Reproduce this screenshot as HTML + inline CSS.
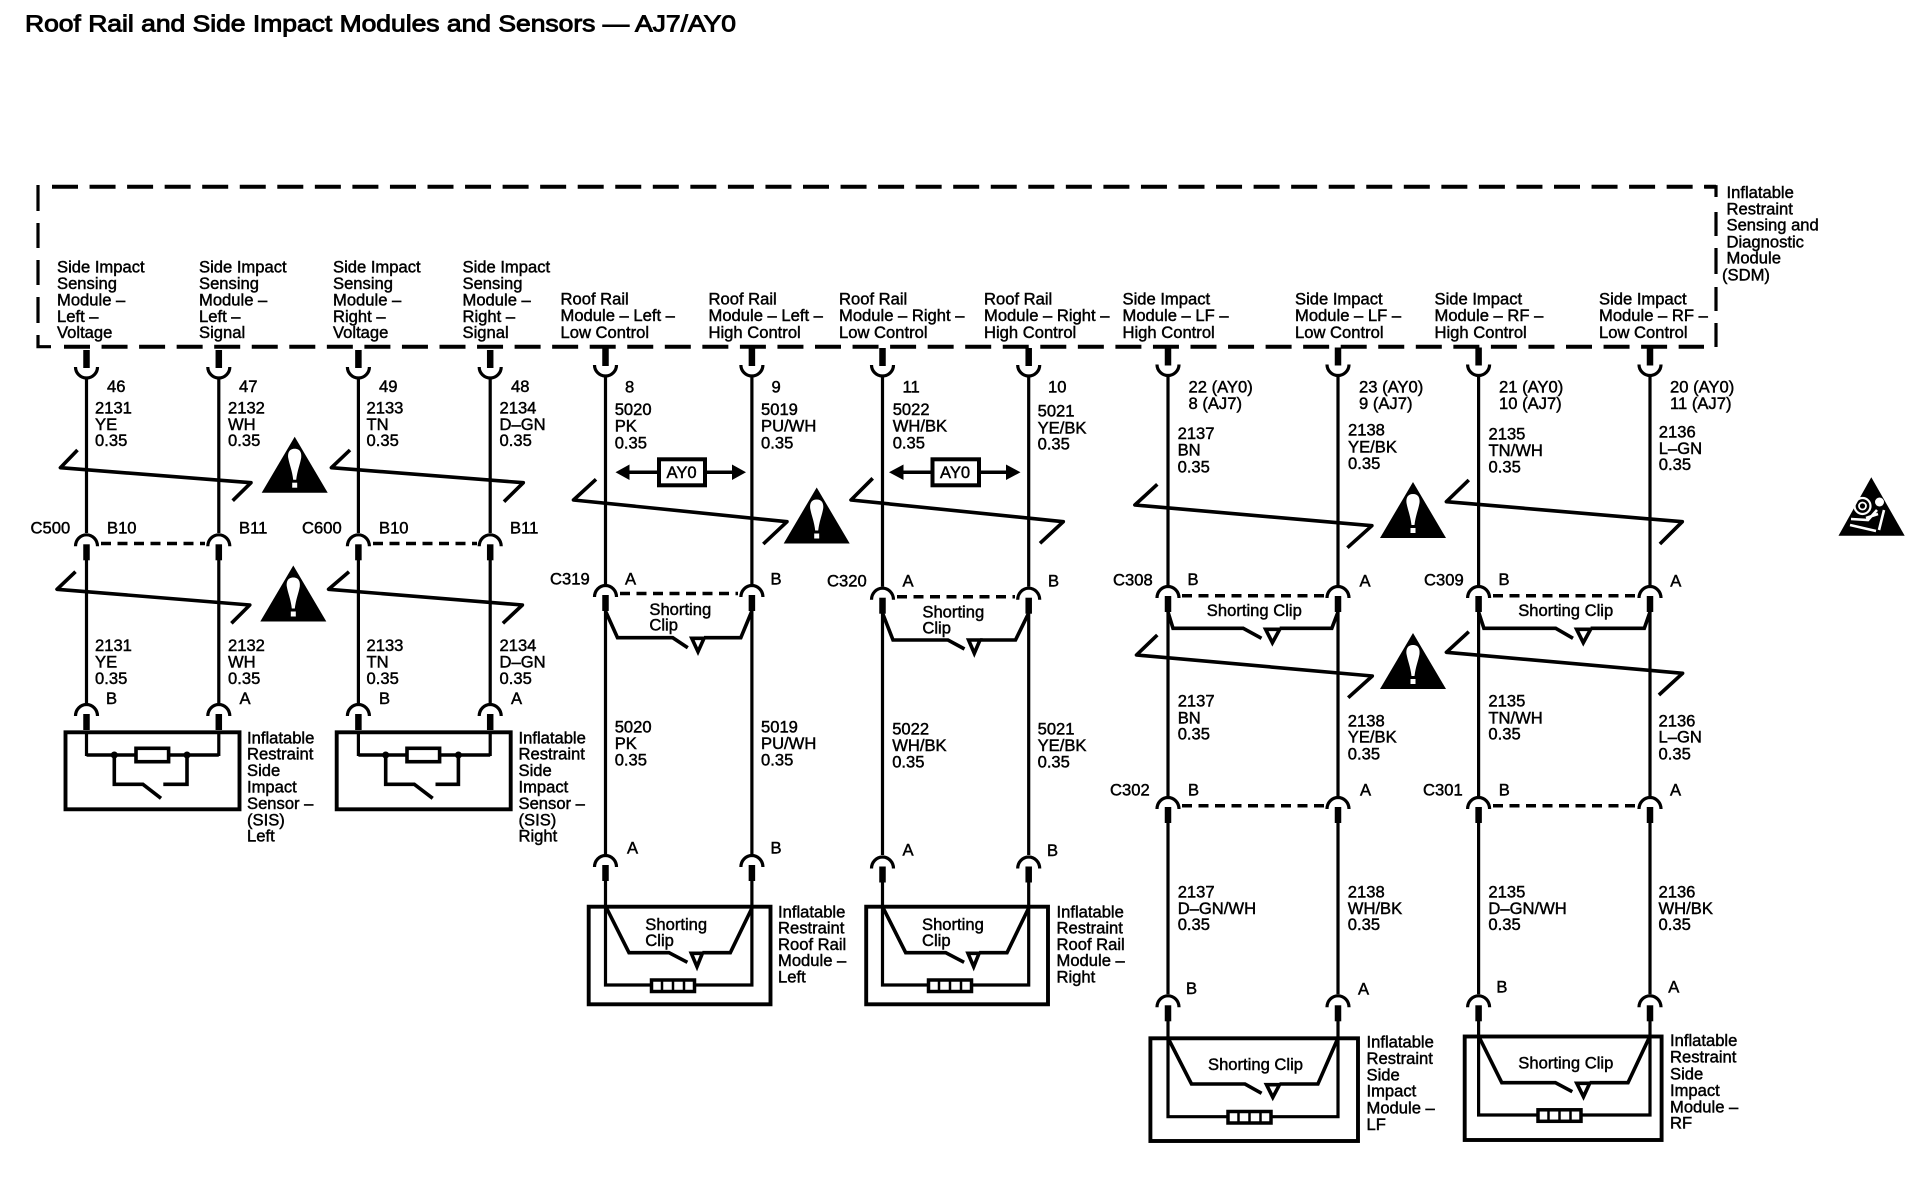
<!DOCTYPE html>
<html><head><meta charset="utf-8"><title>Roof Rail and Side Impact Modules and Sensors</title>
<style>
html,body{margin:0;padding:0;background:#fff;width:1916px;height:1184px;overflow:hidden}
svg{display:block}
text{font-family:"Liberation Sans",sans-serif;font-size:16.6px;fill:#000;stroke:#000;stroke-width:.45px}
.w{fill:none;stroke:#000;stroke-width:3.2}
.d{fill:none;stroke:#000;stroke-width:3.5;stroke-dasharray:10 6.5}
.b{fill:none;stroke:#000;stroke-width:3.9}
.c{fill:none;stroke:#000;stroke-width:3.6;stroke-linejoin:round}
</style></head><body>
<svg width="1916" height="1184" viewBox="0 0 1916 1184" xmlns="http://www.w3.org/2000/svg">
<defs>
<g id="u"><path d="M0 0V18" stroke="#000" stroke-width="6.500" fill="none"/><path d="M-11 17A11 11 0 0 0 11 17" stroke="#000" stroke-width="3.200" fill="none"/></g>
<g id="a"><path d="M-11 13A11 11.500 0 0 1 11 13" stroke="#000" stroke-width="3.200" fill="#fff"/><path d="M0 11V27" stroke="#000" stroke-width="6.500" fill="none"/></g>
<g id="tri"><path d="M0 0L33 56H-33Z" fill="#000"/><path d="M0 12C-6 12-7 17-6.500 21C-5.500 27-2.500 34-1.500 43H1.500C2.500 34 5.500 27 6.500 21C7 17 6 12 0 12Z" fill="#fff"/><rect x="-2.500" y="46" width="5" height="5" fill="#fff"/></g>
<g id="conn"><rect x="1.500" y="1.500" width="43" height="11.500" fill="#fff" stroke="#000" stroke-width="3.500"/><path d="M12 1.500V13M23 1.500V13M34 1.500V13" stroke="#000" stroke-width="2.500"/></g>
</defs>

<text x="25" y="31.500" textLength="711" lengthAdjust="spacingAndGlyphs" style="font-size:23px;stroke-width:.9px">Roof Rail and Side Impact Modules and Sensors — AJ7/AY0</text>

<!-- SDM frame -->
<path d="M52 186.700H1716" fill="none" stroke="#000" stroke-width="4" stroke-dasharray="26 11.550"/>
<path d="M64 346.700H1704" fill="none" stroke="#000" stroke-width="4" stroke-dasharray="26 11.550"/>
<path d="M38 185V211M38 223V248M38 260V285M38 297V323M38 335V346.700H51" fill="none" stroke="#000" stroke-width="3.200"/>
<path d="M1704 186.700H1716V197M1716 212V236M1716 248V274M1716 287V311M1716 323V347" fill="none" stroke="#000" stroke-width="3.200"/>
<text x="1726.500" y="198">Inflatable</text><text x="1726.500" y="214.300">Restraint</text><text x="1726.500" y="230.700">Sensing and</text><text x="1726.500" y="247.300">Diagnostic</text><text x="1726.500" y="263.300">Module</text><text x="1722" y="280.700">(SDM)</text>

<!-- header labels -->
<text x="57" y="272.700">Side Impact</text><text x="57" y="289">Sensing</text><text x="57" y="305.500">Module –</text><text x="57" y="322">Left –</text><text x="57" y="338">Voltage</text>
<text x="199" y="272.700">Side Impact</text><text x="199" y="289">Sensing</text><text x="199" y="305.500">Module –</text><text x="199" y="322">Left –</text><text x="199" y="338">Signal</text>
<text x="333" y="272.700">Side Impact</text><text x="333" y="289">Sensing</text><text x="333" y="305.500">Module –</text><text x="333" y="322">Right –</text><text x="333" y="338">Voltage</text>
<text x="462.500" y="272.700">Side Impact</text><text x="462.500" y="289">Sensing</text><text x="462.500" y="305.500">Module –</text><text x="462.500" y="322">Right –</text><text x="462.500" y="338">Signal</text>
<text x="560.500" y="304.500">Roof Rail</text><text x="560.500" y="321">Module – Left –</text><text x="560.500" y="338">Low Control</text>
<text x="708.500" y="304.500">Roof Rail</text><text x="708.500" y="321">Module – Left –</text><text x="708.500" y="338">High Control</text>
<text x="839" y="304.500">Roof Rail</text><text x="839" y="321">Module – Right –</text><text x="839" y="338">Low Control</text>
<text x="984" y="304.500">Roof Rail</text><text x="984" y="321">Module – Right –</text><text x="984" y="338">High Control</text>
<text x="1122.500" y="304.500">Side Impact</text><text x="1122.500" y="321">Module – LF –</text><text x="1122.500" y="338">High Control</text>
<text x="1295" y="304.500">Side Impact</text><text x="1295" y="321">Module – LF –</text><text x="1295" y="338">Low Control</text>
<text x="1434.500" y="304.500">Side Impact</text><text x="1434.500" y="321">Module – RF –</text><text x="1434.500" y="338">High Control</text>
<text x="1599" y="304.500">Side Impact</text><text x="1599" y="321">Module – RF –</text><text x="1599" y="338">Low Control</text>

<!-- wires -->
<path class="w" d="M86.500 378V533M86.500 560V703M86.500 731V756M218.800 378V533M218.800 560V703M218.800 731V756M358.400 378V533M358.400 560V703M358.400 731V756M490.200 378V533M490.200 560V703M490.200 731V756"/>
<path class="w" d="M605.500 376V584M605.500 611V854M605.500 880V985H751.900V880M751.900 611V854M751.900 376V584"/>
<path class="w" d="M882.500 376V586.700M882.500 613V855M882.500 882V985H1028.700V882M1028.700 613V855M1028.700 376V586.700"/>
<path class="w" d="M1168 375V585M1168 612V796M1168 822V994.300M1168 1021V1116.700H1338V1021M1338 994.300V822M1338 796V612M1338 585V375"/>
<path class="w" d="M1478.600 375V585M1478.600 612V796M1478.600 822V994.300M1478.600 1021V1115H1650V1021M1650 994.300V822M1650 796V612M1650 585V375"/>

<!-- top connectors -->
<use href="#u" x="86.500" y="350"/><use href="#u" x="218.800" y="350"/><use href="#u" x="358.400" y="350"/><use href="#u" x="490.200" y="350"/>
<use href="#u" x="605.500" y="348"/><use href="#u" x="751.900" y="348"/><use href="#u" x="882.500" y="348"/><use href="#u" x="1028.700" y="348"/>
<use href="#u" x="1168" y="347.500"/><use href="#u" x="1338" y="347.500"/><use href="#u" x="1478.600" y="347.500"/><use href="#u" x="1650" y="347.500"/>

<!-- dashed connector bodies -->
<path class="d" d="M101 543.500H205"/><path class="d" d="M373 543.500H477"/>
<path class="d" d="M620 593.500H738"/><path class="d" d="M897 596.700H1015"/>
<path class="d" d="M1182 595.700H1325"/><path class="d" d="M1493 595.700H1637"/>
<path class="d" d="M1182 805.700H1325"/><path class="d" d="M1493 805.700H1637"/>

<!-- arches -->
<use href="#a" x="86.500" y="533.300"/><use href="#a" x="218.800" y="533.300"/><use href="#a" x="358.400" y="533.300"/><use href="#a" x="490.200" y="533.300"/>
<use href="#a" x="86.500" y="703"/><use href="#a" x="218.800" y="703"/><use href="#a" x="358.400" y="703"/><use href="#a" x="490.200" y="703"/>
<use href="#a" x="605.500" y="584"/><use href="#a" x="751.900" y="584"/><use href="#a" x="882.500" y="586.700"/><use href="#a" x="1028.700" y="586.700"/>
<use href="#a" x="605.500" y="854"/><use href="#a" x="751.900" y="854"/><use href="#a" x="882.500" y="855.500"/><use href="#a" x="1028.700" y="855.500"/>
<use href="#a" x="1168" y="585"/><use href="#a" x="1338" y="585"/><use href="#a" x="1478.600" y="585"/><use href="#a" x="1650" y="585"/>
<use href="#a" x="1168" y="796"/><use href="#a" x="1338" y="796"/><use href="#a" x="1478.600" y="796"/><use href="#a" x="1650" y="796"/>
<use href="#a" x="1168" y="994.300"/><use href="#a" x="1338" y="994.300"/><use href="#a" x="1478.600" y="994.300"/><use href="#a" x="1650" y="994.300"/>

<!-- break lines -->
<path class="c" d="M77.500 450L60.400 467.700L251 482.700L232.700 500.700"/>
<path class="c" d="M350 450L331.400 467.700L523.300 482.700L504 501.700"/>
<path class="c" d="M75.500 571.700L57 589.300L249.800 605L231.400 623.300"/>
<path class="c" d="M349 571.700L328.600 589.300L522.400 605L502.900 623.300"/>
<path class="c" d="M596 479.300L573.500 500L787 521.700L763.300 544"/>
<path class="c" d="M872.700 478.300L851 500L1063.300 521.700L1040 543.300"/>
<path class="c" d="M1157.300 484.300L1134.900 505L1371.900 525.700L1347.400 547.700"/>
<path class="c" d="M1468.800 480L1446.400 501.700L1682.300 521.700L1659.900 544"/>
<path class="c" d="M1157.300 635L1136.500 655L1372.300 676L1348.200 697.700"/>
<path class="c" d="M1468.800 631.700L1446.400 652.300L1682.600 673.300L1658.900 695"/>

<!-- warning triangles -->
<use href="#tri" x="294.700" y="436.700"/><use href="#tri" x="293.300" y="565.500"/><use href="#tri" x="816.700" y="487.500"/><use href="#tri" x="1413" y="482"/><use href="#tri" x="1413" y="633"/>
<path d="M1871.300 477.300L1904.700 535.700H1838.500Z" fill="#000"/>
<circle cx="1879.500" cy="502" r="4.500" fill="#fff"/>
<circle cx="1862.500" cy="506" r="8" fill="none" stroke="#fff" stroke-width="2.200"/>
<circle cx="1862.500" cy="506" r="3.500" fill="none" stroke="#fff" stroke-width="1.800"/>
<path d="M1877 510L1868 520L1851 519M1884 510L1879 530M1850 525L1876 531M1866 518L1878 514" fill="none" stroke="#fff" stroke-width="2.600"/>

<!-- SIS boxes -->
<rect x="65.500" y="732.300" width="174" height="77" class="b"/>
<rect x="336.700" y="732.300" width="174" height="77" class="b"/>
<g fill="none" stroke="#000" stroke-width="3.600">
<path d="M86.500 755H218.800M114.300 755V784.300H142.900L161 798.300M187 755V784.300H163.300"/>
<rect x="136" y="748.300" width="32.600" height="13.400" fill="#fff"/>
<path d="M358.400 755H490.200M385.700 755V784.300H414.300L432.700 798.300M458.400 755V784.300H435.500"/>
<rect x="407" y="748.300" width="32.600" height="13.400" fill="#fff"/>
</g>
<circle cx="114.300" cy="755" r="3.500"/><circle cx="187" cy="755" r="3.500"/><circle cx="385.700" cy="755" r="3.500"/><circle cx="458.400" cy="755" r="3.500"/>

<!-- module boxes -->
<rect x="588.700" y="906.700" width="181.800" height="97.600" class="b"/>
<rect x="866.200" y="906.700" width="181.800" height="97.600" class="b"/>
<rect x="1150.400" y="1038.300" width="207.600" height="102.700" class="b"/>
<rect x="1464.700" y="1036.500" width="196.900" height="103.500" class="b"/>

<!-- shorting clips -->
<g fill="none" stroke="#000" stroke-width="3.600">
<path d="M605.500 611L617.500 637.700H672.700L687.800 647.700M704 637.700H740.800L751.900 611"/>
<path d="M691.800 638.300H704L698 651.700Z"/>
<path d="M882.500 613L893 640H948L964.500 649M980 640H1015.500L1028.700 613"/>
<path d="M968.600 640H980L974.300 653.300Z"/>
<path d="M1168 612L1173 628.300H1243.200L1261.500 638.300M1279.700 628.300H1331.800L1338 612"/>
<path d="M1265.600 629.300H1279.700L1272.400 642.700Z"/>
<path d="M1478.600 612L1483.900 628.300H1555.700L1573 638.300M1590.600 628.300H1644.300L1650 612"/>
<path d="M1576.600 629.300H1590.600L1583.300 642.700Z"/>
<path d="M606 907L629 952.700H669L687.400 962.300M702.400 952.700H730.300L752 908"/>
<path d="M691.300 953.300H702.400L697 966.700Z"/>
<path d="M882.700 907L905.700 952.700H945.700L964.100 962.300M979.100 952.700H1007L1028.700 908"/>
<path d="M968 953.300H979.100L973.700 966.700Z"/>
<path d="M1168 1038L1191.500 1084H1245L1261.600 1093.300M1279.500 1084H1317.900L1338 1038"/>
<path d="M1266.500 1084.700H1279.500L1272.800 1097.300Z"/>
<path d="M1478.600 1036L1501.800 1082.700H1555.400L1572.300 1091.700M1589.700 1082.700H1628L1650 1036"/>
<path d="M1576.800 1083.300H1589.700L1583.500 1096.700Z"/>
</g>
<use href="#conn" x="650" y="978.500"/><use href="#conn" x="927" y="978.500"/><use href="#conn" x="1226.500" y="1110"/><use href="#conn" x="1536.500" y="1108.300"/>

<!-- AY0 -->
<path d="M629 472.300H658M705 472.300H732M903 472.300H932M980 472.300H1006" stroke="#000" stroke-width="3.500" fill="none"/>
<path d="M615.500 472.300L629.500 464.500V480ZM746 472.300L732 464.500V480ZM889 472.300L903.500 464.500V480ZM1020.500 472.300L1006 464.500V480Z"/>
<rect x="659" y="459.300" width="46" height="26" fill="#fff" stroke="#000" stroke-width="4"/>
<rect x="932.500" y="459.300" width="46.500" height="26" fill="#fff" stroke="#000" stroke-width="4"/>
<text x="666.500" y="478">AY0</text><text x="940" y="478">AY0</text>

<!-- pin numbers -->
<text x="107" y="392">46</text><text x="239" y="392">47</text><text x="379" y="392">49</text><text x="511" y="392">48</text>
<text x="625" y="392.300">8</text><text x="771.500" y="392.300">9</text><text x="902.500" y="392.300">11</text><text x="1048" y="392.300">10</text>
<text x="1188.500" y="392.700">22 (AY0)</text><text x="1188.500" y="409">8 (AJ7)</text>
<text x="1359" y="392.700">23 (AY0)</text><text x="1359" y="409">9 (AJ7)</text>
<text x="1499" y="392.700">21 (AY0)</text><text x="1499" y="409">10 (AJ7)</text>
<text x="1670" y="392.700">20 (AY0)</text><text x="1670" y="409">11 (AJ7)</text>

<!-- wire labels: upper -->
<text x="95" y="413.300">2131</text><text x="95" y="430">YE</text><text x="95" y="446">0.35</text>
<text x="228" y="413.300">2132</text><text x="228" y="430">WH</text><text x="228" y="446">0.35</text>
<text x="366.500" y="413.300">2133</text><text x="366.500" y="430">TN</text><text x="366.500" y="446">0.35</text>
<text x="499.500" y="413.300">2134</text><text x="499.500" y="430">D–GN</text><text x="499.500" y="446">0.35</text>
<text x="614.700" y="415">5020</text><text x="614.700" y="431.700">PK</text><text x="614.700" y="448.300">0.35</text>
<text x="761" y="415">5019</text><text x="761" y="431.700">PU/WH</text><text x="761" y="448.300">0.35</text>
<text x="892.700" y="415">5022</text><text x="892.700" y="431.700">WH/BK</text><text x="892.700" y="448.300">0.35</text>
<text x="1037.600" y="416.700">5021</text><text x="1037.600" y="433.300">YE/BK</text><text x="1037.600" y="449.300">0.35</text>
<text x="1177.600" y="439">2137</text><text x="1177.600" y="455.700">BN</text><text x="1177.600" y="472.300">0.35</text>
<text x="1348" y="435.700">2138</text><text x="1348" y="452.300">YE/BK</text><text x="1348" y="469">0.35</text>
<text x="1488.500" y="439.300">2135</text><text x="1488.500" y="456">TN/WH</text><text x="1488.500" y="472.700">0.35</text>
<text x="1658.800" y="437.300">2136</text><text x="1658.800" y="454">L–GN</text><text x="1658.800" y="470">0.35</text>

<!-- second row -->
<text x="95" y="651">2131</text><text x="95" y="667.700">YE</text><text x="95" y="684">0.35</text>
<text x="228" y="651">2132</text><text x="228" y="667.700">WH</text><text x="228" y="684">0.35</text>
<text x="366.500" y="651">2133</text><text x="366.500" y="667.700">TN</text><text x="366.500" y="684">0.35</text>
<text x="499.500" y="651">2134</text><text x="499.500" y="667.700">D–GN</text><text x="499.500" y="684">0.35</text>
<text x="614.700" y="732.300">5020</text><text x="614.700" y="749">PK</text><text x="614.700" y="765.700">0.35</text>
<text x="761" y="732.300">5019</text><text x="761" y="749">PU/WH</text><text x="761" y="765.700">0.35</text>
<text x="892.200" y="734.300">5022</text><text x="892.200" y="751">WH/BK</text><text x="892.200" y="767.700">0.35</text>
<text x="1037.600" y="734.300">5021</text><text x="1037.600" y="751">YE/BK</text><text x="1037.600" y="767.700">0.35</text>
<text x="1177.700" y="706.700">2137</text><text x="1177.700" y="723.300">BN</text><text x="1177.700" y="739.300">0.35</text>
<text x="1347.800" y="726.700">2138</text><text x="1347.800" y="742.700">YE/BK</text><text x="1347.800" y="759.300">0.35</text>
<text x="1488.400" y="706.700">2135</text><text x="1488.400" y="723.300">TN/WH</text><text x="1488.400" y="739.300">0.35</text>
<text x="1658.500" y="726.700">2136</text><text x="1658.500" y="742.700">L–GN</text><text x="1658.500" y="759.300">0.35</text>
<text x="1177.700" y="897.300">2137</text><text x="1177.700" y="914">D–GN/WH</text><text x="1177.700" y="930">0.35</text>
<text x="1347.800" y="897.300">2138</text><text x="1347.800" y="914">WH/BK</text><text x="1347.800" y="930">0.35</text>
<text x="1488.400" y="897.300">2135</text><text x="1488.400" y="914">D–GN/WH</text><text x="1488.400" y="930">0.35</text>
<text x="1658.500" y="897.300">2136</text><text x="1658.500" y="914">WH/BK</text><text x="1658.500" y="930">0.35</text>

<!-- connector IDs and cavities -->
<text x="30.500" y="533.300">C500</text><text x="107" y="533.300">B10</text><text x="239" y="533.300">B11</text>
<text x="302" y="533.300">C600</text><text x="379" y="533.300">B10</text><text x="510" y="533.300">B11</text>
<text x="106" y="704">B</text><text x="239.500" y="704">A</text><text x="379" y="704">B</text><text x="511" y="704">A</text>
<text x="550" y="584.300">C319</text><text x="625" y="584.300">A</text><text x="770.500" y="584.300">B</text>
<text x="827" y="586.700">C320</text><text x="902.500" y="586.700">A</text><text x="1048" y="586.700">B</text>
<text x="1113" y="585.700">C308</text><text x="1187.500" y="585">B</text><text x="1359.500" y="586.700">A</text>
<text x="1424" y="585.700">C309</text><text x="1498.500" y="585">B</text><text x="1670.300" y="586.700">A</text>
<text x="1110" y="795.700">C302</text><text x="1188" y="795.700">B</text><text x="1360" y="795.700">A</text>
<text x="1423" y="795.700">C301</text><text x="1498.700" y="795.700">B</text><text x="1670" y="795.700">A</text>
<text x="627" y="853.300">A</text><text x="770.500" y="853.300">B</text><text x="902.500" y="855.700">A</text><text x="1047" y="856">B</text>
<text x="1186" y="994">B</text><text x="1358" y="994.700">A</text><text x="1496.400" y="992.700">B</text><text x="1668.300" y="992.700">A</text>

<!-- shorting clip labels -->
<text x="649.400" y="615">Shorting</text><text x="649.400" y="630.700">Clip</text>
<text x="922.400" y="617.300">Shorting</text><text x="922.400" y="633.300">Clip</text>
<text x="1206.800" y="616">Shorting Clip</text><text x="1518.200" y="616">Shorting Clip</text>
<text x="645.300" y="930">Shorting</text><text x="645.300" y="946">Clip</text>
<text x="922" y="930">Shorting</text><text x="922" y="946">Clip</text>
<text x="1208" y="1070">Shorting Clip</text><text x="1518.300" y="1068.300">Shorting Clip</text>

<!-- module names -->
<text x="247" y="743.300">Inflatable</text><text x="247" y="759.300">Restraint</text><text x="247" y="776">Side</text><text x="247" y="792.300">Impact</text><text x="247" y="809">Sensor –</text><text x="247" y="825.700">(SIS)</text><text x="247" y="841.700">Left</text>
<text x="518.500" y="743.300">Inflatable</text><text x="518.500" y="759.300">Restraint</text><text x="518.500" y="776">Side</text><text x="518.500" y="792.300">Impact</text><text x="518.500" y="809">Sensor –</text><text x="518.500" y="825.700">(SIS)</text><text x="518.500" y="841.700">Right</text>
<text x="778" y="917.300">Inflatable</text><text x="778" y="933.700">Restraint</text><text x="778" y="950">Roof Rail</text><text x="778" y="966">Module –</text><text x="778" y="982.700">Left</text>
<text x="1056.500" y="917.300">Inflatable</text><text x="1056.500" y="933.700">Restraint</text><text x="1056.500" y="950">Roof Rail</text><text x="1056.500" y="966">Module –</text><text x="1056.500" y="982.700">Right</text>
<text x="1366.500" y="1047.700">Inflatable</text><text x="1366.500" y="1064">Restraint</text><text x="1366.500" y="1080.700">Side</text><text x="1366.500" y="1096.700">Impact</text><text x="1366.500" y="1113.300">Module –</text><text x="1366.500" y="1130">LF</text>
<text x="1670" y="1046">Inflatable</text><text x="1670" y="1062.700">Restraint</text><text x="1670" y="1079.300">Side</text><text x="1670" y="1096">Impact</text><text x="1670" y="1112.300">Module –</text><text x="1670" y="1128.300">RF</text>
</svg>
</body></html>
